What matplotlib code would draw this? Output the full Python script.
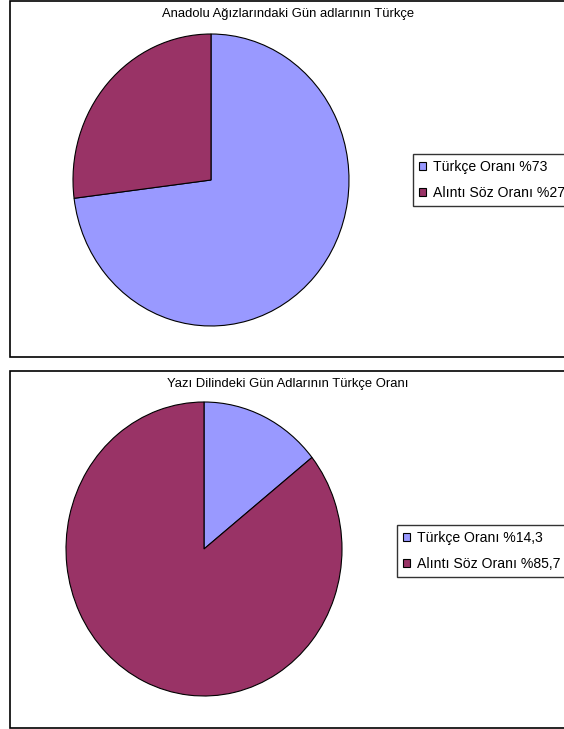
import matplotlib
matplotlib.use("Agg")
import matplotlib.pyplot as plt
from matplotlib.patches import Rectangle, Patch

plt.rcParams['font.family'] = ['Liberation Sans', 'DejaVu Sans']

titles = ["Anadolu Ağızlarındaki Gün adlarının Türkçe",
          "Yazı Dilindeki Gün Adlarının Türkçe Oranı"]
categories = ["Türkçe Oranı", "Alıntı Söz Oranı"]
values_top = [73, 27]
values_bottom = [14.3, 85.7]
labels_top = ["Türkçe Oranı %73", "Alıntı Söz Oranı %27"]
labels_bottom = ["Türkçe Oranı %14,3", "Alıntı Söz Oranı %85,7"]
colors = ["#9999FF", "#993366"]

W, H = 564, 729
fig = plt.figure(figsize=(W / 100, H / 100), dpi=100)

def fx(x):
    return x / W

def fy(y):
    return 1 - y / H

# chart boxes
for (top, bottom) in [(1, 357), (371, 728)]:
    fig.patches.append(Rectangle((fx(10), fy(bottom)), fx(600) - fx(10), fy(top) - fy(bottom),
                                 transform=fig.transFigure, facecolor='white',
                                 edgecolor='black', linewidth=1.2, zorder=-5))

def draw_pie(cx, cy, rx, ry, vals, labels, title, title_y, leg_x, leg_y):
    pad = 1.03
    ax = fig.add_axes([fx(cx - rx * pad), fy(cy + ry * pad), 2 * rx * pad / W, 2 * ry * pad / H])
    ax.set_zorder(2)
    ax.pie(vals, colors=colors, startangle=90, counterclock=False, radius=1,
           wedgeprops=dict(edgecolor='black', linewidth=0.8))
    ax.set_aspect('auto')
    ax.set_xlim(-pad, pad)
    ax.set_ylim(-pad, pad)
    ax.axis('off')
    fig.text(fx(288), fy(title_y), title, ha='center', va='center', fontsize=9.4)
    handles = [Patch(facecolor=c, edgecolor='black', linewidth=0.8) for c in colors]
    leg = fig.legend(handles, labels, loc='upper left', bbox_to_anchor=(fx(leg_x), fy(leg_y)),
                     borderaxespad=0, fontsize=10.1, fancybox=False, frameon=True,
                     handlelength=0.5, handleheight=0.5, handletextpad=0.5,
                     labelspacing=0.86, borderpad=0.42)
    leg.get_frame().set_edgecolor('black')
    leg.get_frame().set_linewidth(1.0)
    leg.set_zorder(3)

draw_pie(211, 180, 138, 146, values_top, labels_top, titles[0], 14, 413, 154)
draw_pie(204, 549, 138, 147, values_bottom, labels_bottom, titles[1], 384, 397, 525)

fig.savefig("out.png", dpi=100)
